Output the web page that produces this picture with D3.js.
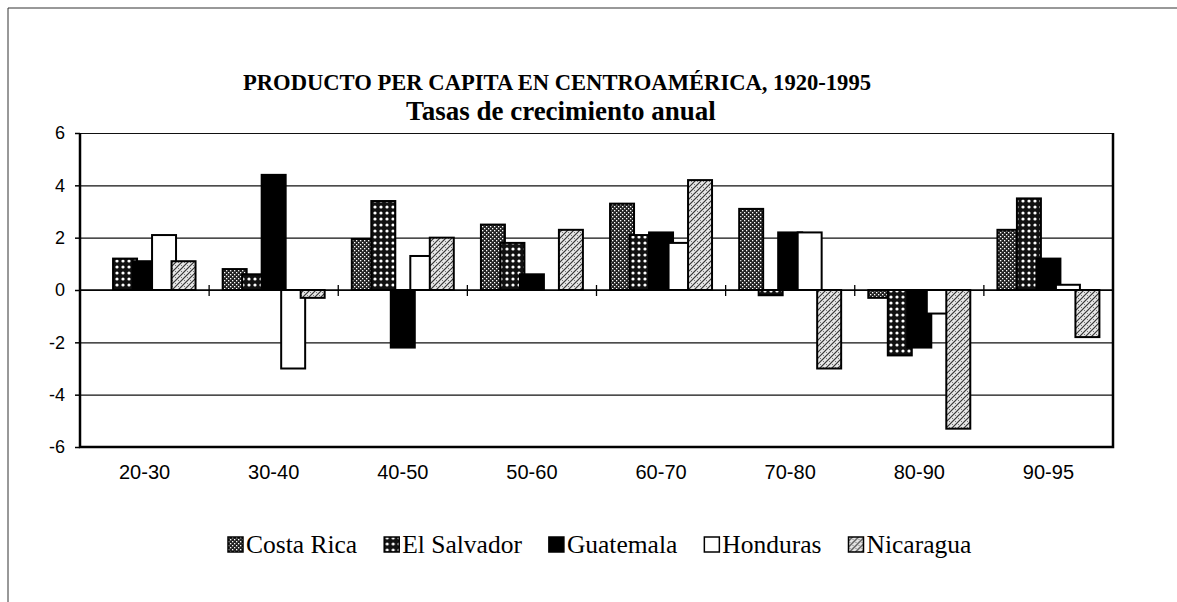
<!DOCTYPE html>
<html>
<head>
<meta charset="utf-8">
<script src="https://cdn.jsdelivr.net/npm/d3@7"></script>
<style>
  body { margin: 0; background: #fff; overflow: hidden; }
</style>
</head>
<body>
<div id="chart"></div>
<script>
const categories = ['20-30', '30-40', '40-50', '50-60', '60-70', '70-80', '80-90', '90-95'];
const seriesNames = ['Costa Rica', 'El Salvador', 'Guatemala', 'Honduras', 'Nicaragua'];
const costaRica = [null, 0.8, 1.95, 2.5, 3.3, 3.1, -0.3, 2.3];
const elSalvador = [1.2, 0.6, 3.4, 1.8, 2.1, -0.2, -2.5, 3.5];
const guatemala = [1.1, 4.4, -2.2, 0.6, 2.2, 2.2, -2.2, 1.2];
const honduras = [2.1, -3.0, 1.3, 0, 1.8, 2.2, -0.9, 0.2];
const nicaragua = [1.1, -0.3, 2.0, 2.3, 4.2, -3.0, -5.3, -1.8];
const yTicks = [-6, -4, -2, 0, 2, 4, 6];

const seriesValues = [costaRica, elSalvador, guatemala, honduras, nicaragua];
const fills = ['url(#pCR)', 'url(#pES)', '#000', '#fff', 'url(#pNI)'];

const W = 1177, H = 602;
const plot = { left: 80, right: 1113, top: 133, bottom: 447 };

const svg = d3.select('#chart').append('svg')
  .attr('width', W).attr('height', H);

// patterns
const defs = svg.append('defs');
const pCR = defs.append('pattern').attr('id', 'pCR').attr('patternUnits', 'userSpaceOnUse')
  .attr('width', 4).attr('height', 4);
pCR.append('rect').attr('width', 4).attr('height', 4).attr('fill', '#222');
pCR.append('rect').attr('x', 0).attr('y', 0).attr('width', 1.3).attr('height', 1.3).attr('fill', '#fff');
pCR.append('rect').attr('x', 2).attr('y', 2).attr('width', 1.3).attr('height', 1.3).attr('fill', '#fff');

const pES = defs.append('pattern').attr('id', 'pES').attr('patternUnits', 'userSpaceOnUse')
  .attr('width', 6).attr('height', 6);
pES.append('rect').attr('width', 6).attr('height', 6).attr('fill', '#111');
pES.append('circle').attr('cx', 3).attr('cy', 3).attr('r', 1.6).attr('fill', '#fff');

const pNI = defs.append('pattern').attr('id', 'pNI').attr('patternUnits', 'userSpaceOnUse')
  .attr('width', 6).attr('height', 6);
pNI.append('rect').attr('width', 6).attr('height', 6).attr('fill', '#e6e6e6');
pNI.append('rect').attr('x', 1).attr('y', 1).attr('width', 1).attr('height', 1).attr('fill', '#777');
pNI.append('rect').attr('x', 4).attr('y', 4).attr('width', 1).attr('height', 1).attr('fill', '#777');
pNI.append('path').attr('d', 'M0,6 L6,0 M-1,1 L1,-1 M5,7 L7,5')
  .attr('stroke', '#333').attr('stroke-width', 1.2);

// outer frame (runs off the right and bottom of the page)
svg.append('path')
  .attr('d', `M${W + 10},8H8V${H + 10}`)
  .attr('fill', 'none').attr('stroke', '#333').attr('stroke-width', 1);

// titles
svg.append('text')
  .attr('x', 557).attr('y', 90)
  .attr('text-anchor', 'middle')
  .style('font-family', '"Liberation Serif", "Times New Roman", serif')
  .style('font-weight', 'bold')
  .style('font-size', '22.6px')
  .text('PRODUCTO PER CAPITA EN CENTROAMÉRICA, 1920-1995');

svg.append('text')
  .attr('x', 561).attr('y', 120)
  .attr('text-anchor', 'middle')
  .style('font-family', '"Liberation Serif", "Times New Roman", serif')
  .style('font-weight', 'bold')
  .style('font-size', '27px')
  .text('Tasas de crecimiento anual');

// scales
const x = d3.scaleBand().domain(categories).range([plot.left, plot.right]);
const y = d3.scaleLinear().domain([-6, 6]).range([plot.bottom, plot.top]);
const xSeries = d3.scaleBand().domain(seriesNames)
  .range([x.bandwidth() * 0.105, x.bandwidth() * 0.86]);
const barW = xSeries.bandwidth() * 1.23;

// gridlines
svg.append('g')
  .attr('transform', `translate(${plot.left},0)`)
  .call(d3.axisLeft(y).tickValues(yTicks).tickSize(-(plot.right - plot.left)).tickFormat(''))
  .call(g => g.select('.domain').remove())
  .call(g => g.selectAll('line').attr('stroke', '#111').attr('stroke-width', 1.2));

// y axis
svg.append('g')
  .attr('transform', `translate(${plot.left},0)`)
  .call(d3.axisLeft(y).tickValues(yTicks).tickSize(5).tickPadding(10).tickFormat(d => String(d)))
  .call(g => g.select('.domain').remove())
  .call(g => g.selectAll('line').attr('stroke', '#000').attr('stroke-width', 1.5))
  .call(g => g.selectAll('text')
    .style('font-family', '"Liberation Sans", Arial, sans-serif')
    .style('font-size', '18px').attr('fill', '#000'));

// bars
seriesValues.forEach((vals, si) => {
  svg.append('g')
    .selectAll('rect')
    .data(vals.map((v, i) => ({ c: categories[i], v })).filter(d => d.v !== null))
    .enter()
    .append('rect')
    .attr('x', d => x(d.c) + xSeries(seriesNames[si]))
    .attr('y', d => y(Math.max(0, d.v)))
    .attr('width', barW)
    .attr('height', d => Math.abs(y(d.v) - y(0)))
    .attr('fill', fills[si])
    .attr('stroke', '#000')
    .attr('stroke-width', 2);
});

// zero line with category ticks
svg.append('line')
  .attr('x1', plot.left).attr('x2', plot.right)
  .attr('y1', y(0)).attr('y2', y(0))
  .attr('stroke', '#000').attr('stroke-width', 1.3);

svg.append('g')
  .attr('transform', `translate(0,${y(0)})`)
  .selectAll('line')
  .data(categories.slice(1))
  .enter()
  .append('line')
  .attr('x1', d => x(d)).attr('x2', d => x(d))
  .attr('y1', -5).attr('y2', 6)
  .attr('stroke', '#000').attr('stroke-width', 1.3);

// plot frame (left, bottom, right)
svg.append('path')
  .attr('d', `M${plot.left},${plot.top}V${plot.bottom}H${plot.right}V${plot.top}`)
  .attr('fill', 'none').attr('stroke', '#000').attr('stroke-width', 2.5);

// x labels
svg.append('g')
  .attr('transform', `translate(0,${plot.bottom})`)
  .call(d3.axisBottom(x).tickSize(0).tickPadding(18))
  .call(g => g.select('.domain').remove())
  .call(g => g.selectAll('text')
    .style('font-family', '"Liberation Sans", Arial, sans-serif')
    .style('font-size', '20px').attr('fill', '#000'));

// legend
const legend = svg.append('g').attr('transform', 'translate(228,553)');
let lx = 0;
seriesNames.forEach((name, i) => {
  const item = legend.append('g').attr('transform', `translate(${lx},0)`);
  item.append('rect')
    .attr('x', 0).attr('y', -16).attr('width', 15).attr('height', 15)
    .attr('fill', fills[i]).attr('stroke', '#000').attr('stroke-width', 1.5);
  const t = item.append('text')
    .attr('x', 18).attr('y', 0)
    .style('font-family', '"Liberation Serif", "Times New Roman", serif')
    .style('font-size', '25.5px')
    .text(name);
  lx += 18 + t.node().getComputedTextLength() + 27;
});
</script>
</body>
</html>
